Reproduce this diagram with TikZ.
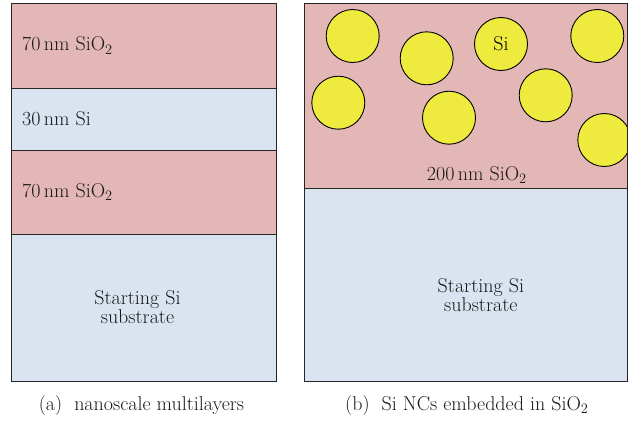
\documentclass[tikz,border=0pt]{standalone}
\usetikzlibrary{positioning}
\definecolor{oxpink}{RGB}{228,183,183}
\definecolor{sibl}{RGB}{217,228,240}
\definecolor{ncyel}{RGB}{238,234,62}
\tikzset{
  layer/.style={draw=black!85, line width=1pt, anchor=north west, inner sep=0pt, outer sep=0pt},
  oxide/.style={layer, fill=oxpink},
  silicon/.style={layer, fill=sibl},
  nc/.style={circle, draw=black, line width=0.9pt, fill=ncyel, minimum size=53pt, inner sep=0pt},
  lbl/.style={font=\fontsize{20}{19}\selectfont, inner sep=0pt, text=black!90},
}

\begin{document}
\begin{tikzpicture}[x=1pt,y=-1pt]
    \useasboundingbox (0,0) rectangle (628,423);
    % (a) multilayers
    \node[oxide, minimum width=265pt, minimum height=85pt]    (oxtop) at (11,3) {};
    \node[silicon, minimum width=265pt, minimum height=62pt,
          below=0pt of oxtop]                                  (sia)   {};
    \node[oxide, minimum width=265pt, minimum height=84pt,
          below=0pt of sia]                                    (oxmid) {};
    \node[silicon, minimum width=265pt, minimum height=147pt,
          below=0pt of oxmid]                                  (subA)  {};
    %
    \node[lbl, anchor=west] (ltop) at ([xshift=11pt]oxtop.west) {70\,nm SiO$_2$};
    \node[lbl, anchor=west] (lsi)  at ([xshift=11pt]sia.west)   {30\,nm Si};
    \node[lbl, anchor=west] (lmid) at ([xshift=11pt]oxmid.west) {70\,nm SiO$_2$};
    \node[lbl, align=center] (lsubA) at ([xshift=-6pt]subA.center) {Starting Si\\substrate};
    \node[lbl, below=14pt of subA, xshift=-2pt] (capA) {(a)~~nanoscale multilayers};
    % (b) nanocrystals
    \node[oxide, minimum width=323.7pt, minimum height=185pt]  (oxB)  at (304,3) {};
    \node[silicon, minimum width=323.7pt, minimum height=193pt,
          below=0pt of oxB]                                    (subB) {};
    \begin{scope}
        \clip (oxB.north west) rectangle (oxB.south east);
        \foreach \cx/\cy [count=\i] in {352.7/36, 426.7/58.3, 597.3/36, 338.3/102.7,
                                        449/117.7, 545.7/95.3, 604.3/140}
            \node[nc] (nc\i) at (\cx,\cy) {};
        \node[nc, font=\fontsize{20}{19}\selectfont] (ncsi) at (501,44) {Si};
    \end{scope}
    \draw[draw=black!85, line width=1pt] (oxB.north west) rectangle (oxB.south east);
    %
    \node[lbl] (lox) at ([xshift=11pt,yshift=13pt]oxB.south) {200\,nm SiO$_2$};
    \node[lbl, align=center] (lsubB) at ([xshift=15pt,yshift=-11pt]subB.center) {Starting Si\\substrate};
    \node[lbl, below=14pt of subB, xshift=1pt] (capB) {(b)~~Si NCs embedded in SiO$_2$};
\end{tikzpicture}
\end{document}
